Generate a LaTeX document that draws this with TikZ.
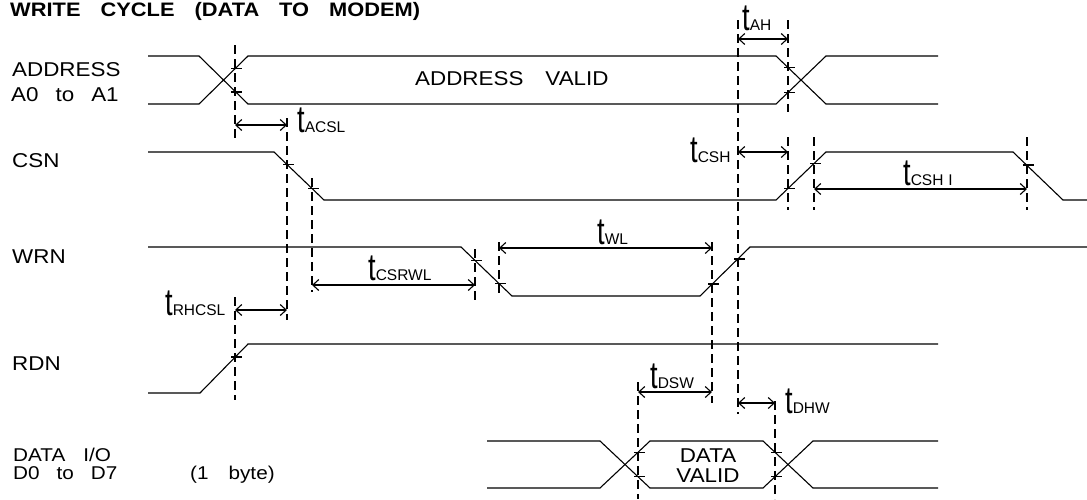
\documentclass[tikz,border=0pt]{standalone}
\usepackage{graphicx}
\usepackage{fontspec}
\setmainfont{Liberation Sans}[FakeStretch=1.12]
\newfontfamily\plainf{Liberation Sans}
\usetikzlibrary{arrows.meta}
\newcommand\tlab[1]{\scalebox{0.8}[1.12]{\plainf\fontsize{34}{34}\selectfont t}{\plainf\fontsize{15.5}{15.5}\selectfont #1}}
\newcommand\wgap{\hspace{17pt}}
\begin{document}
\begin{tikzpicture}[x=1pt,y=-1pt,
  wave/.style={line width=1.1pt},
  guide/.style={line width=1.8pt, dash pattern=on 9pt off 5pt},
  dim/.style={line width=1.1pt, {Straight Barb[length=6pt,width=11pt]}-{Straight Barb[length=6pt,width=11pt]}},
  tickmark/.style={line width=1.1pt},
  lbl/.style={inner sep=0pt, anchor=base west, font=\fontsize{20}{20}\selectfont},
  small/.style={lbl, font=\fontsize{18.5}{18.5}\selectfont},
  tl/.style={inner sep=0pt, anchor=base west}]
\useasboundingbox (0,0) rectangle (1087,499);

% title
\node[lbl, font=\bfseries\fontsize{19.5}{19.5}\selectfont] (title) at (10,16)
  {WRITE\hspace{20pt}CYCLE\hspace{20pt}(DATA\hspace{20pt}TO\hspace{20pt}MODEM)};

% signal names
\node[lbl] (addr1) at (12,76) {ADDRESS};
\node[lbl] (addr2) at (11,101) {A0\wgap to\wgap A1};
\node[lbl] (csn) at (12,167) {CSN};
\node[lbl] (wrn) at (12,263) {WRN};
\node[lbl] (rdn) at (12,370) {RDN};
\node[small] (data1) at (13,461) {DATA\hspace{18pt}I/O};
\node[small] (data2) at (13,479) {D0\wgap to\wgap D7};
\node[small] (byte) at (190,479) {(1\hspace{20pt}byte)};

% waveforms
\draw[wave] (148,56) -- (199,56) -- (248,104) -- (776,104) -- (826,56) -- (938,56);
\draw[wave] (148,104) -- (199,104) -- (248,56) -- (776,56) -- (826,104) -- (938,104);
\node[lbl] (addrvalid) at (415,85) {ADDRESS\hspace{22pt}VALID};

\draw[wave] (148,152) -- (274,152) -- (324,200) -- (776,200) -- (826,152) -- (1013,152) -- (1063,200) -- (1087,200);
\draw[wave] (148,247) -- (461,247) -- (512,296) -- (700,296) -- (750,247) -- (1087,247);
\draw[wave] (148,393) -- (200,393) -- (248,344) -- (938,344);

\draw[wave] (487,441) -- (600,441) -- (650,488) -- (763,488) -- (813,441) -- (938,441);
\draw[wave] (487,488) -- (600,488) -- (650,441) -- (763,441) -- (813,488) -- (938,488);
\node[lbl, anchor=base] (dv1) at (708,462) {DATA};
\node[lbl, anchor=base] (dv2) at (708,482) {VALID};

% guide lines
\foreach \x/\a/\b in {235/45/140, 235/297/400, 287/118/320, 312/178/292,
  475/249/302, 499/242/297, 638/382/499, 712/242/403, 738/20/414,
  775/401/499, 788/20/112, 788/137/210, 814/137/210, 1027/137/210}
  \draw[guide] (\x,\a) -- (\x,\b);

% crossing ticks
\foreach \x/\y in {235/68.7, 235/92, 788/67.5, 788/92.5,
  287/164.5, 312/188.5, 788/188.5, 814/163.5, 1027/165,
  475/260.5, 499/283.5, 712/284, 738/259, 235/357,
  638/452.3, 638/476.7, 775/452.3, 775/476.7}
  \draw[tickmark] (\x-4,\y) -- (\x+7,\y);

% dimension arrows
\draw[dim] (738,39) -- (788,39);
\draw[dim] (235,125) -- (287,125);
\draw[dim] (738,152) -- (788,152);
\draw[dim] (814,189) -- (1027,189);
\draw[dim] (499,248) -- (712,248);
\draw[dim] (312,285) -- (475,285);
\draw[dim] (235,310) -- (287,310);
\draw[dim] (638,392) -- (712,392);
\draw[dim] (738,403) -- (775,403);

% timing labels
\node[tl] (tah) at (742,30) {\tlab{AH}};
\node[tl] (tacsl) at (297,132) {\tlab{ACSL}};
\node[tl] (tcsh) at (690,162) {\tlab{CSH}};
\node[tl] (tcshi) at (903,185) {\tlab{CSH\hspace{5pt}I}};
\node[tl] (twl) at (597,244) {\tlab{WL}};
\node[tl] (tcsrwl) at (368,280) {\tlab{CSRWL}};
\node[tl] (trhcsl) at (165,315) {\tlab{RHCSL}};
\node[tl] (tdsw) at (650,388) {\tlab{DSW}};
\node[tl] (tdhw) at (785,413) {\tlab{DHW}};
\end{tikzpicture}
\end{document}
